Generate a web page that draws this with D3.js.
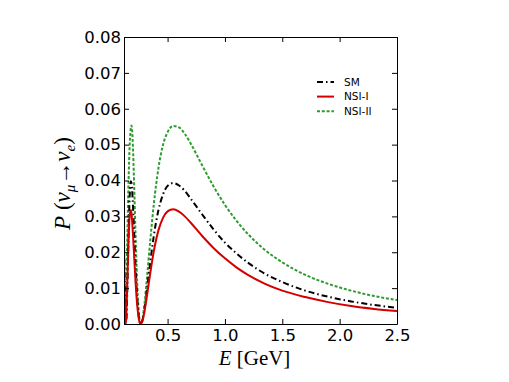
<!DOCTYPE html>
<html>
<head>
<meta charset="utf-8">
<script src="https://cdn.jsdelivr.net/npm/d3@7"></script>
<style>
  body { margin: 0; background: #fff; }
  svg { display: block; }
</style>
</head>
<body>
<script>
// Energies (GeV)
const energy = [0.12, 0.125, 0.13, 0.135, 0.14, 0.15, 0.16, 0.17, 0.18, 0.185, 0.19, 0.20, 0.21, 0.22, 0.23, 0.24, 0.25, 0.26, 0.266,
                0.28, 0.30, 0.32, 0.35, 0.38, 0.42, 0.46, 0.50, 0.55, 0.60, 0.65, 0.70, 0.80, 0.90, 1.00, 1.10, 1.20, 1.35, 1.50, 1.70, 1.90, 2.10, 2.30, 2.50];

const probSM = [0.0220, 0.0138, 0.0049, 0.0004, 0.0007, 0.0111, 0.0254, 0.0359, 0.0398, 0.0393, 0.0377, 0.0317, 0.0241, 0.0164, 0.0100, 0.0050, 0.0018, 0.0002, 0.0000,
                0.0009, 0.0045, 0.0095, 0.0175, 0.0246, 0.0317, 0.0361, 0.0385, 0.0393, 0.0386, 0.0371, 0.0350, 0.0306, 0.0264, 0.0227, 0.0197, 0.0171, 0.0140, 0.0117, 0.0093, 0.0076, 0.0063, 0.0053, 0.0045];

const probNSI1 = [0.0110, 0.0058, 0.0011, 0.0001, 0.0025, 0.0127, 0.0236, 0.0303, 0.0318, 0.0309, 0.0291, 0.0240, 0.0179, 0.0121, 0.0072, 0.0037, 0.0013, 0.0002, 0.0000,
                  0.0008, 0.0037, 0.0078, 0.0144, 0.0203, 0.0261, 0.0296, 0.0314, 0.0320, 0.0313, 0.0300, 0.0283, 0.0246, 0.0212, 0.0183, 0.0158, 0.0137, 0.0112, 0.0093, 0.0075, 0.0061, 0.0050, 0.0042, 0.0036];

const probNSI2 = [0.0340, 0.0080, 0.0004, 0.0038, 0.0099, 0.0256, 0.0401, 0.0501, 0.0548, 0.0553, 0.0543, 0.0475, 0.0370, 0.0257, 0.0157, 0.0080, 0.0029, 0.0004, 0.0000,
                  0.0012, 0.0060, 0.0128, 0.0236, 0.0334, 0.0434, 0.0499, 0.0535, 0.0552, 0.0548, 0.0530, 0.0504, 0.0443, 0.0384, 0.0332, 0.0288, 0.0251, 0.0206, 0.0172, 0.0137, 0.0112, 0.0093, 0.0078, 0.0067];

const seriesNames = ['SM', 'NSI-I', 'NSI-II'];
const xTicks = [0.5, 1.0, 1.5, 2.0, 2.5];
const yTicks = [0.00, 0.01, 0.02, 0.03, 0.04, 0.05, 0.06, 0.07, 0.08];

let w = 509, h = 382;
let m = {left: 124, top: 37, right: 112, bottom: 58}; // plot box
let pw = w - m.left - m.right, ph = h - m.top - m.bottom;

let svg = d3.select('body').append('svg')
  .attr('width', w).attr('height', h)
  .style('font-family', 'DejaVu Sans, sans-serif');

let xScale = d3.scaleLinear().domain([0.12, 2.5]).range([0, pw]);
let yScale = d3.scaleLinear().domain([0, 0.08]).range([ph, 0]);

let g = svg.append('g').attr('transform', 'translate(' + m.left + ',' + m.top + ')');

g.append('clipPath').attr('id', 'clip')
  .append('rect').attr('width', pw).attr('height', ph);

// styles per series
let styles = [
  {values: probSM,   color: '#000000', dash: '6,3,1.5,3'},
  {values: probNSI1, color: '#d40000', dash: null},
  {values: probNSI2, color: '#2f9a2f', dash: '3,1.8'}
];

let line = d3.line()
  .x(d => xScale(d[0]))
  .y(d => yScale(d[1]))
  .curve(d3.curveMonotoneX);

// draw order: green behind, then black, red on top
[2, 0, 1].forEach(i => {
  let s = styles[i];
  g.append('path')
    .datum(energy.map((e, k) => [e, s.values[k]]))
    .attr('clip-path', 'url(#clip)')
    .attr('fill', 'none')
    .attr('stroke', s.color)
    .attr('stroke-width', 2)
    .attr('stroke-dasharray', s.dash)
    .attr('d', line);
});

// axes, ticks pointing inwards on all four sides
let tick = 5;
let xAxis = d3.axisBottom(xScale).tickValues(xTicks).tickFormat(d3.format('.1f'))
  .tickSizeInner(-tick).tickSizeOuter(0).tickPadding(5);
let xTop = d3.axisTop(xScale).tickValues(xTicks).tickFormat('')
  .tickSizeInner(-tick).tickSizeOuter(0);
let yAxis = d3.axisLeft(yScale).tickValues(yTicks).tickFormat(d3.format('.2f'))
  .tickSizeInner(-tick).tickSizeOuter(0).tickPadding(3);
let yRight = d3.axisRight(yScale).tickValues(yTicks).tickFormat('')
  .tickSizeInner(-tick).tickSizeOuter(0);

let axes = [
  g.append('g').attr('transform', 'translate(0,' + ph + ')').call(xAxis),
  g.append('g').call(xTop),
  g.append('g').call(yAxis),
  g.append('g').attr('transform', 'translate(' + pw + ',0)').call(yRight)
];
axes.forEach(a => {
  a.selectAll('path, line').attr('stroke', '#000').attr('stroke-width', 1);
  a.selectAll('text').attr('fill', '#000').style('font-size', '16.5px')
   .style('font-family', 'DejaVu Sans, sans-serif');
});

// axis labels
svg.append('text')
  .attr('x', m.left + pw / 2 - 6).attr('y', 365)
  .attr('text-anchor', 'middle')
  .style('font-family', 'Liberation Serif, serif').style('font-size', '21px')
  .html('<tspan font-style="italic">E</tspan> [GeV]');

let yl = svg.append('text')
  .attr('transform', 'translate(70,' + (m.top + ph / 2 + 3) + ') rotate(-90)')
  .attr('text-anchor', 'middle')
  .style('font-family', 'Liberation Serif, serif').style('font-size', '23px');
yl.append('tspan').attr('font-style', 'italic').text('P');
yl.append('tspan').text(' (');
yl.append('tspan').attr('font-style', 'italic').text('ν');
yl.append('tspan').attr('font-style', 'italic').attr('dy', 5).style('font-size', '15px').text('μ');
yl.append('tspan').attr('dy', -5).text('→');
yl.append('tspan').attr('font-style', 'italic').text('ν');
yl.append('tspan').attr('font-style', 'italic').attr('dy', 5).style('font-size', '15px').text('e');
yl.append('tspan').attr('dy', -5).text(')');

// legend
let legend = svg.append('g').attr('transform', 'translate(317,82)');
seriesNames.forEach((name, i) => {
  let row = legend.append('g').attr('transform', 'translate(0,' + (i * 14.6) + ')');
  row.append('line')
    .attr('x1', 0).attr('x2', 17).attr('y1', 0).attr('y2', 0)
    .attr('stroke', styles[i].color).attr('stroke-width', 2)
    .attr('stroke-dasharray', styles[i].dash);
  row.append('text')
    .attr('x', 27).attr('y', 0).attr('dy', '0.35em')
    .style('font-size', '10.5px').attr('fill', '#000')
    .text(name);
});
</script>
</body>
</html>
